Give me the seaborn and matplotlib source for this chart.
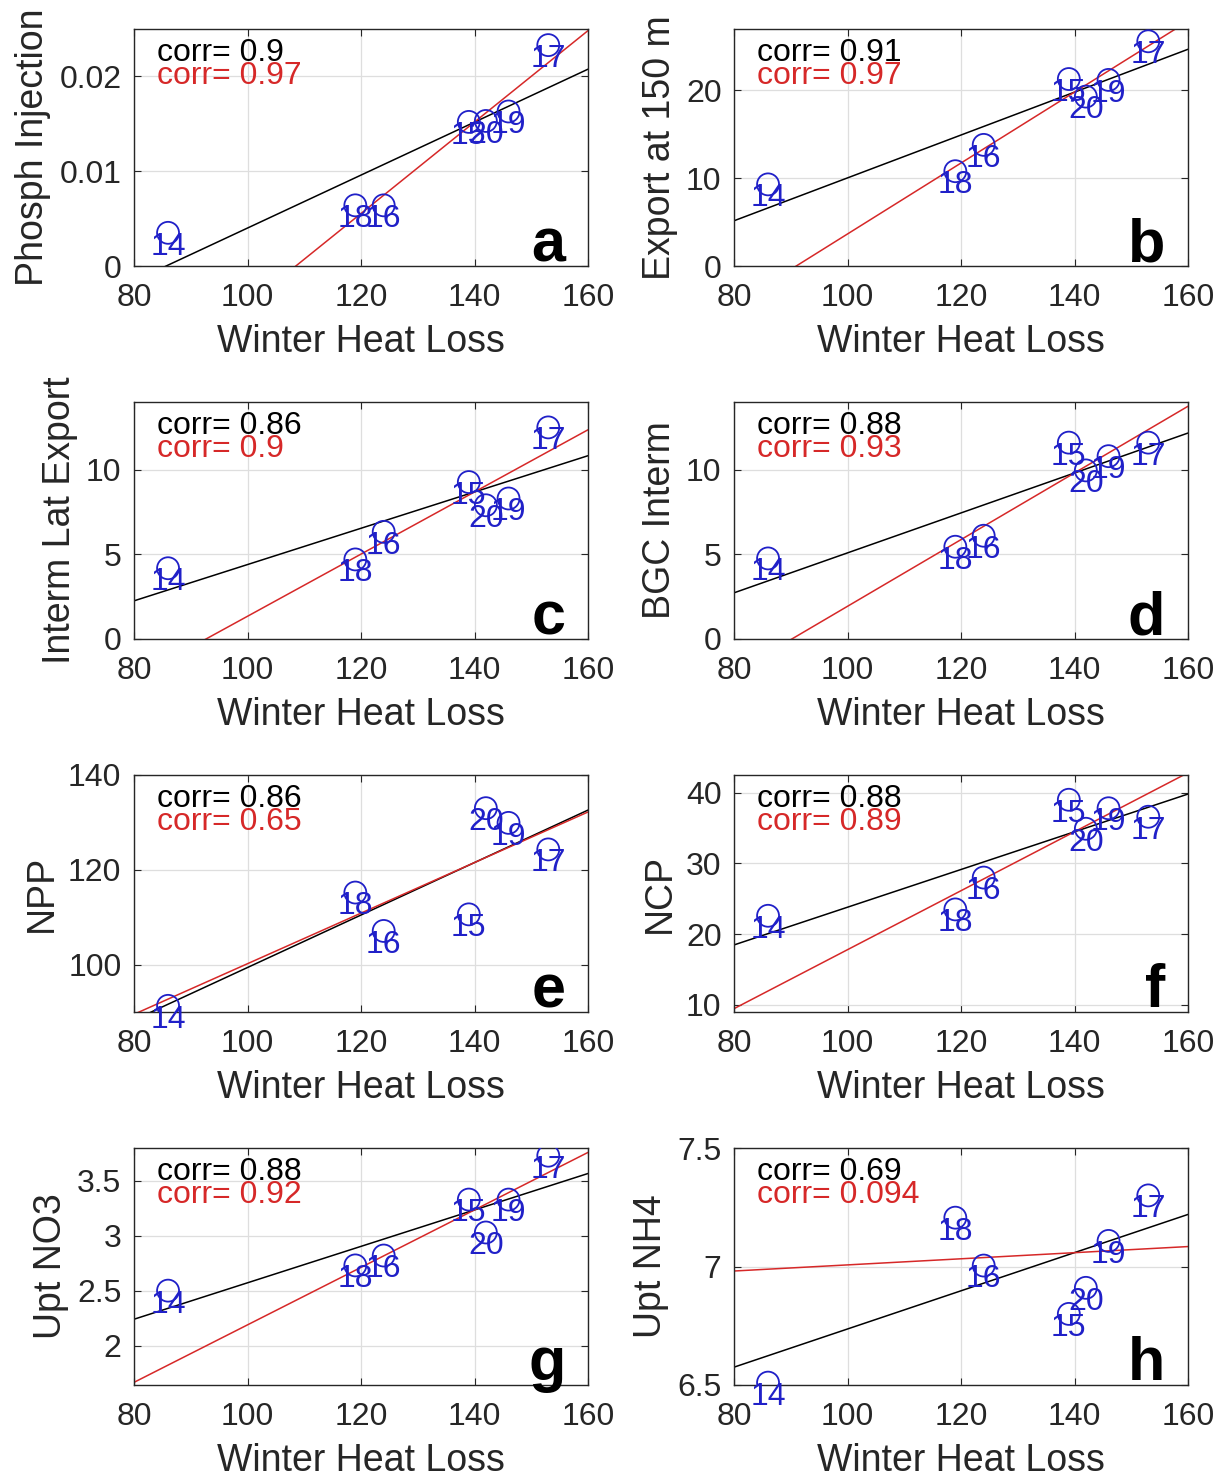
import matplotlib
matplotlib.use("Agg")
import matplotlib.pyplot as plt
import numpy as np
import pandas as pd
import seaborn as sns

# ---------------------------------------------------------------------------
# Data
# ---------------------------------------------------------------------------

years = ["14", "15", "16", "17", "18", "19", "20"]
heat_loss = [86, 139, 124, 153, 119, 146, 142]

phosph_injection = [0.0035, 0.0152, 0.0064, 0.0233, 0.0064, 0.0163, 0.0153]
export_150m = [9.3, 21.3, 13.8, 25.6, 10.8, 21.2, 19.3]
interm_lat_export = [4.18, 9.27, 6.33, 12.5, 4.7, 8.3, 7.9]
bgc_interm = [4.76, 11.6, 6.1, 11.6, 5.45, 10.8, 9.96]
npp = [91.3, 110.6, 107.1, 124.3, 115.2, 129.9, 133.0]
ncp = [22.6, 39.0, 28.0, 36.6, 23.5, 37.8, 34.9]
upt_no3 = [2.50, 3.33, 2.82, 3.73, 2.73, 3.33, 3.03]
upt_nh4 = [6.51, 6.80, 7.004, 7.30, 7.206, 7.108, 6.91]

panel_letters = ["a", "b", "c", "d", "e", "f", "g", "h"]
y_labels = ["Phosph Injection", "Export at 150 m", "Interm Lat Export", "BGC Interm",
            "NPP", "NCP", "Upt NO3", "Upt NH4"]
corr_all = ["0.9", "0.91", "0.86", "0.88", "0.86", "0.88", "0.88", "0.69"]
corr_no14 = ["0.97", "0.97", "0.9", "0.93", "0.65", "0.89", "0.92", "0.094"]

y_limits = [(0, 0.025), (0, 27), (0, 14), (0, 14), (90, 140), (9, 42.5), (1.64, 3.8), (6.5, 7.5)]
y_ticks = [[0, 0.01, 0.02], [0, 10, 20], [0, 5, 10], [0, 5, 10],
           [100, 120, 140], [10, 20, 30, 40], [2, 2.5, 3, 3.5], [6.5, 7, 7.5]]
y_ticklabels = [["0", "0.01", "0.02"], ["0", "10", "20"], ["0", "5", "10"], ["0", "5", "10"],
                ["100", "120", "140"], ["10", "20", "30", "40"], ["2", "2.5", "3", "3.5"],
                ["6.5", "7", "7.5"]]

series = [phosph_injection, export_150m, interm_lat_export, bgc_interm,
          npp, ncp, upt_no3, upt_nh4]

# ---------------------------------------------------------------------------
# Style
# ---------------------------------------------------------------------------

sns.set_style("ticks")
plt.rcParams["font.family"] = ["Liberation Sans", "DejaVu Sans"]

W, H = 1227, 1479
fig = plt.figure(figsize=(W / 100, H / 100), dpi=100)

col_left = [134, 734]
ax_w = 454
row_top = [29, 402, 775, 1148]
ax_h = 237

BLUE = "#2020c8"
RED = "#d62828"
DARK = "#262626"

for i, vals in enumerate(series):
    r, c = divmod(i, 2)
    left = col_left[c] / W
    bottom = 1 - (row_top[r] + ax_h) / H
    ax = fig.add_axes([left, bottom, ax_w / W, ax_h / H])

    df = pd.DataFrame({"x": heat_loss, "y": vals, "year": years})
    df_no14 = df[df["year"] != "14"]

    ax.set_xlim(80, 160)
    ax.set_ylim(*y_limits[i])

    # regression lines across the full x range: all years (black), without 14 (red)
    sns.regplot(data=df, x="x", y="y", ax=ax, scatter=False, ci=None,
                truncate=False, color="black", line_kws={"lw": 1.1})
    sns.regplot(data=df_no14, x="x", y="y", ax=ax, scatter=False, ci=None,
                truncate=False, color=RED, line_kws={"lw": 1.1})

    sns.scatterplot(data=df, x="x", y="y", ax=ax, marker="o", s=250,
                    facecolor="none", edgecolor=BLUE, linewidth=1.3, zorder=5)

    for _, row in df.iterrows():
        ax.annotate(row["year"], (row["x"], row["y"]), xytext=(0, -10),
                    textcoords="offset points", ha="center", va="center",
                    fontsize=23, color=BLUE, zorder=6)

    ax.set_xlim(80, 160)
    ax.set_ylim(*y_limits[i])
    ax.set_xticks([80, 100, 120, 140, 160])
    ax.set_yticks(y_ticks[i])
    ax.set_yticklabels(y_ticklabels[i])
    ax.grid(True, color="#dedede", lw=0.9)
    ax.tick_params(direction="in", length=5, labelsize=23, colors=DARK,
                   top=True, right=True)
    ax.tick_params(axis="x", pad=12)
    ax.tick_params(axis="y", pad=9)
    for sp in ax.spines.values():
        sp.set_color(DARK)
        sp.set_linewidth(1.0)

    ax.set_xlabel("Winter Heat Loss", fontsize=27, color=DARK, labelpad=8)
    ax.set_ylabel(y_labels[i], fontsize=27, color=DARK, labelpad=6)

    ax.text(0.05, 0.9, f"corr= {corr_all[i]}", transform=ax.transAxes,
            fontsize=23, color="black", ha="left", va="center")
    ax.text(0.05, 0.8, f"corr= {corr_no14[i]}", transform=ax.transAxes,
            fontsize=23, color=RED, ha="left", va="center")
    ax.text(0.95, 0.02, panel_letters[i], transform=ax.transAxes,
            fontsize=44, fontweight="bold", color="black", ha="right", va="baseline")

fig.savefig("out.png", dpi=100)
